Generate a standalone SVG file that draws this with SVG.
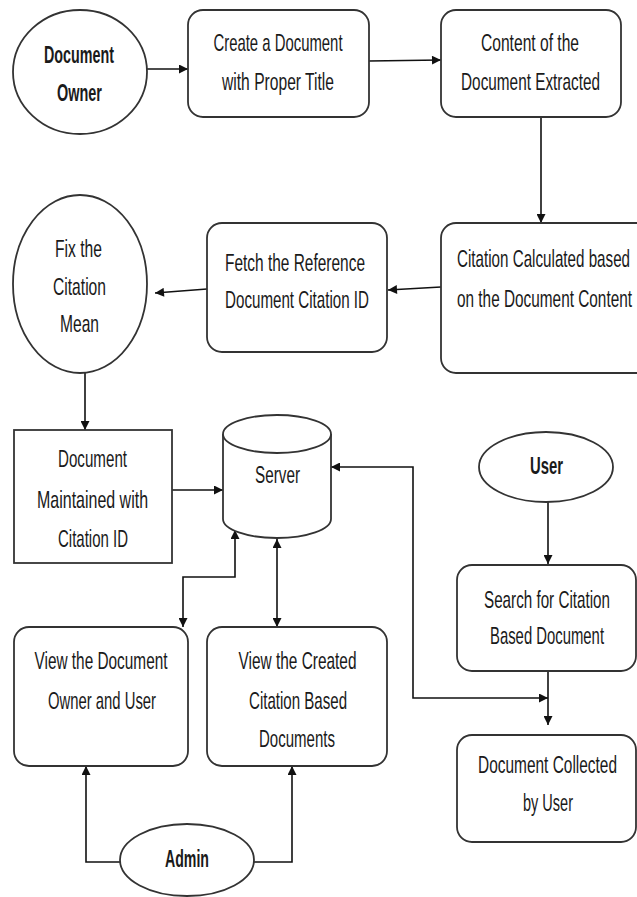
<svg xmlns="http://www.w3.org/2000/svg" width="637" height="897" viewBox="0 0 637 897">
<style>
.shape{fill:#ffffff;stroke:#333333;stroke-width:1.8}
.t{font-family:"Liberation Sans",Arial,sans-serif;font-size:24px;fill:#1a1a1a;text-anchor:middle}
.b{font-weight:bold}
.c{fill:none;stroke:#111111;stroke-width:1.6}
.a{marker-end:url(#ah)}
.aa{marker-start:url(#ah);marker-end:url(#ah)}
</style>
<defs>
<marker id="ah" viewBox="0 0 10 10" refX="10" refY="5" markerWidth="11" markerHeight="9" orient="auto-start-reverse" markerUnits="userSpaceOnUse">
<path d="M0,0 L10,5 L0,10 z" fill="#111111"/>
</marker>
</defs>
<rect width="637" height="897" fill="#ffffff"/>

<g id="connectors">
<path class="c a" d="M147,69 L188,69"/>
<path class="c a" d="M369,61 L441,60"/>
<path class="c a" d="M541,117 L541,223"/>
<path class="c a" d="M441,287 L388,290"/>
<path class="c a" d="M207,289 L155,293"/>
<path class="c a" d="M85,373 L85,430"/>
<path class="c a" d="M172,490 L223,490"/>
<path class="c aa" d="M331,467 L413,467 L413,698 L548,698"/>
<path class="c aa" d="M235,530 L235,577 L183,577 L183,627"/>
<path class="c aa" d="M277,539 L277,627"/>
<path class="c a" d="M548,502 L548,564"/>
<path class="c a" d="M548,671 L548,725"/>
<path class="c a" d="M121,862 L86,862 L86,766"/>
<path class="c a" d="M254,862 L292,862 L292,766"/>
</g>

<g id="document-owner">
<ellipse class="shape" cx="80" cy="72" rx="67" ry="62"/>
<text class="t b" transform="translate(79,63) scale(0.65,1)" textLength="107.7" lengthAdjust="spacingAndGlyphs">Document</text>
<text class="t b" transform="translate(79.5,101) scale(0.65,1)" textLength="69.2" lengthAdjust="spacingAndGlyphs">Owner</text>
</g>

<g id="create-document">
<rect class="shape" x="188" y="10" width="181" height="107" rx="15"/>
<text class="t" transform="translate(278,51) scale(0.65,1)" textLength="198.5" lengthAdjust="spacingAndGlyphs">Create a Document</text>
<text class="t" transform="translate(278,90) scale(0.65,1)" textLength="172.3" lengthAdjust="spacingAndGlyphs">with Proper Title</text>
</g>

<g id="content-extracted">
<rect class="shape" x="441" y="10" width="180" height="107" rx="15"/>
<text class="t" transform="translate(530,51) scale(0.65,1)" textLength="150.8" lengthAdjust="spacingAndGlyphs">Content of the</text>
<text class="t" transform="translate(530.5,90) scale(0.65,1)" textLength="213.8" lengthAdjust="spacingAndGlyphs">Document Extracted</text>
</g>

<g id="citation-calculated">
<rect class="shape" x="441" y="223" width="215" height="150" rx="15"/>
<text class="t" transform="translate(543.5,267) scale(0.65,1)" textLength="266.2" lengthAdjust="spacingAndGlyphs">Citation Calculated based</text>
<text class="t" transform="translate(544.5,307) scale(0.65,1)" textLength="269.2" lengthAdjust="spacingAndGlyphs">on the Document Content</text>
</g>

<g id="fetch-reference">
<rect class="shape" x="207" y="223" width="180" height="129" rx="15"/>
<text class="t" transform="translate(295,271) scale(0.65,1)" textLength="215.4" lengthAdjust="spacingAndGlyphs">Fetch the Reference</text>
<text class="t" transform="translate(297,308) scale(0.65,1)" textLength="221.5" lengthAdjust="spacingAndGlyphs">Document Citation ID</text>
</g>

<g id="fix-citation">
<ellipse class="shape" cx="80" cy="284" rx="67" ry="89"/>
<text class="t" transform="translate(78.5,257) scale(0.65,1)" textLength="72.3" lengthAdjust="spacingAndGlyphs">Fix the</text>
<text class="t" transform="translate(79.5,295) scale(0.65,1)" textLength="81.5" lengthAdjust="spacingAndGlyphs">Citation</text>
<text class="t" transform="translate(79.5,332) scale(0.65,1)" textLength="60" lengthAdjust="spacingAndGlyphs">Mean</text>
</g>

<g id="document-maintained">
<rect class="shape" x="14" y="430" width="158" height="133"/>
<text class="t" transform="translate(92.5,467) scale(0.65,1)" textLength="106.2" lengthAdjust="spacingAndGlyphs">Document</text>
<text class="t" transform="translate(92.5,508) scale(0.65,1)" textLength="170.8" lengthAdjust="spacingAndGlyphs">Maintained with</text>
<text class="t" transform="translate(93,547) scale(0.65,1)" textLength="107.7" lengthAdjust="spacingAndGlyphs">Citation ID</text>
</g>

<g id="server">
<path class="shape" d="M223,434 L223,519 A54,19 0 0 0 331,519 L331,434"/>
<ellipse class="shape" cx="277" cy="434" rx="54" ry="19"/>
<text class="t" transform="translate(277.5,483) scale(0.65,1)" textLength="69.2" lengthAdjust="spacingAndGlyphs">Server</text>
</g>

<g id="user">
<ellipse class="shape" cx="546" cy="467" rx="67" ry="35"/>
<text class="t b" transform="translate(546.5,474) scale(0.65,1)" textLength="50.8" lengthAdjust="spacingAndGlyphs">User</text>
</g>

<g id="search-citation">
<rect class="shape" x="457" y="565" width="179" height="106" rx="15"/>
<text class="t" transform="translate(547,608) scale(0.65,1)" textLength="193.8" lengthAdjust="spacingAndGlyphs">Search for Citation</text>
<text class="t" transform="translate(547,644) scale(0.65,1)" textLength="175.4" lengthAdjust="spacingAndGlyphs">Based Document</text>
</g>

<g id="document-collected">
<rect class="shape" x="457" y="735" width="179" height="107" rx="15"/>
<text class="t" transform="translate(547.5,773) scale(0.65,1)" textLength="213.8" lengthAdjust="spacingAndGlyphs">Document Collected</text>
<text class="t" transform="translate(548,811) scale(0.65,1)" textLength="76.9" lengthAdjust="spacingAndGlyphs">by User</text>
</g>

<g id="view-owner-user">
<rect class="shape" x="14" y="627" width="174" height="139" rx="15"/>
<text class="t" transform="translate(101,669) scale(0.65,1)" textLength="204.6" lengthAdjust="spacingAndGlyphs">View the Document</text>
<text class="t" transform="translate(102,709) scale(0.65,1)" textLength="166.2" lengthAdjust="spacingAndGlyphs">Owner and User</text>
</g>

<g id="view-created">
<rect class="shape" x="207" y="627" width="180" height="139" rx="15"/>
<text class="t" transform="translate(297.5,669) scale(0.65,1)" textLength="181.5" lengthAdjust="spacingAndGlyphs">View the Created</text>
<text class="t" transform="translate(298,709) scale(0.65,1)" textLength="150.8" lengthAdjust="spacingAndGlyphs">Citation Based</text>
<text class="t" transform="translate(297,747) scale(0.65,1)" textLength="116.9" lengthAdjust="spacingAndGlyphs">Documents</text>
</g>

<g id="admin">
<ellipse class="shape" cx="187" cy="860" rx="67" ry="36"/>
<text class="t b" transform="translate(187,867) scale(0.65,1)" textLength="67.7" lengthAdjust="spacingAndGlyphs">Admin</text>
</g>
</svg>
